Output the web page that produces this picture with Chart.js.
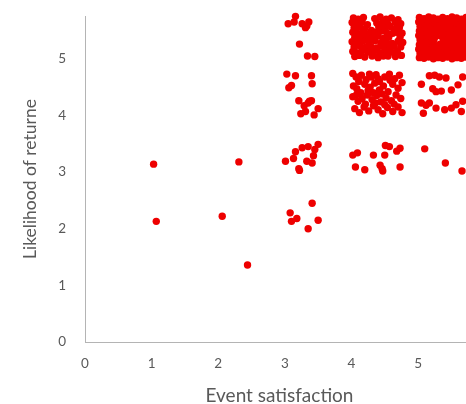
<!DOCTYPE html>
<html>
<head>
<meta charset="utf-8">
<script src="https://cdn.jsdelivr.net/npm/chart.js@4"></script>
<style>
  html, body { margin: 0; padding: 0; background: #fff; overflow: hidden; }
  #wrap { width: 478px; height: 415px; margin-top: -11px; }
</style>
</head>
<body>
<div id="wrap"><canvas id="myChart"></canvas></div>
<script>
// jittered survey answers
var xTitle = 'Event satisfaction'
var yTitle = 'Likelihood of returne'
var xTicks = [0, 1, 2, 3, 4, 5]
var yTicks = [0, 1, 2, 3, 4, 5]

var low = [[1.03, 3.14], [1.07, 2.13], [2.31, 3.18], [2.06, 2.22], [2.44, 1.36]]

var sat3ret2 = [[3.41, 2.45], [3.08, 2.28], [3.10, 2.13], [3.18, 2.18], [3.50, 2.15], [3.35, 2.00]]

var sat3ret3 = [[3.50, 3.49], [3.45, 3.40], [3.35, 3.45], [3.26, 3.43], [3.16, 3.36], [3.43, 3.29],
    [3.33, 3.19], [3.41, 3.16], [3.13, 3.24], [3.01, 3.19], [3.21, 3.06], [3.22, 3.03]]

var sat3ret4 = [[3.03, 4.73], [3.16, 4.70], [3.40, 4.70], [3.41, 4.56], [3.10, 4.53], [3.06, 4.49],
    [3.21, 4.26], [3.29, 4.17], [3.40, 4.26], [3.35, 4.22], [3.50, 4.12], [3.44, 4.01],
    [3.24, 4.03], [3.31, 4.07], [3.37, 4.25]]

var sat3ret5 = [[3.16, 5.75], [3.05, 5.62], [3.14, 5.65], [3.26, 5.62], [3.33, 5.58], [3.36, 5.65],
    [3.31, 5.55], [3.22, 5.26], [3.34, 5.05], [3.45, 5.04]]

var sat4ret3 = [[4.02, 3.30], [4.09, 3.34], [4.33, 3.30], [4.50, 3.30], [4.51, 3.47], [4.57, 3.45],
    [4.68, 3.37], [4.73, 3.42], [4.06, 3.09], [4.20, 3.04], [4.43, 3.12], [4.46, 3.06],
    [4.47, 3.02], [4.73, 3.09]]

var sat5ret3 = [[5.10, 3.41], [5.41, 3.16], [5.66, 3.02]]

var sat4ret4 = [[4.02, 4.74], [4.07, 4.68], [4.15, 4.71], [4.22, 4.63], [4.30, 4.68], [4.37, 4.72],
    [4.42, 4.60], [4.50, 4.68], [4.57, 4.73], [4.65, 4.65], [4.72, 4.71],
    [4.03, 4.52], [4.08, 4.47], [4.14, 4.40], [4.20, 4.55], [4.28, 4.50], [4.35, 4.57],
    [4.42, 4.45], [4.48, 4.52], [4.55, 4.42], [4.62, 4.55], [4.70, 4.48], [4.76, 4.58],
    [4.02, 4.33], [4.10, 4.25], [4.16, 4.30], [4.24, 4.36], [4.31, 4.28], [4.38, 4.35],
    [4.44, 4.24], [4.52, 4.31], [4.60, 4.26], [4.67, 4.36], [4.74, 4.30],
    [4.05, 4.12], [4.12, 4.05], [4.19, 4.15], [4.26, 4.08], [4.33, 4.17], [4.40, 4.10],
    [4.47, 4.03], [4.54, 4.14], [4.62, 4.07], [4.70, 4.15], [4.76, 4.05],
    [4.11, 4.60], [4.25, 4.44], [4.33, 4.40], [4.46, 4.38], [4.58, 4.62], [4.36, 4.22],
    [4.21, 4.20], [4.50, 4.19], [4.64, 4.20], [4.08, 4.37], [4.40, 4.65], [4.27, 4.73]]

var sat5ret4 = [[5.05, 4.55], [5.17, 4.70], [5.25, 4.71], [5.32, 4.68], [5.22, 4.47], [5.27, 4.42],
    [5.35, 4.43], [5.50, 4.45], [5.05, 4.22], [5.12, 4.18], [5.17, 4.22], [5.27, 4.13],
    [5.40, 4.10], [5.50, 4.13], [5.57, 4.19], [5.65, 4.07], [5.67, 4.25], [5.60, 4.54],
    [5.67, 4.68], [5.42, 4.66], [5.08, 4.04]]

var sat4ret5 = [
    [4.03, 5.72], [4.10, 5.70], [4.18, 5.73], [4.35, 5.71], [4.43, 5.74], [4.52, 5.70], [4.60, 5.72], [4.70, 5.69],
    [4.01, 5.64], [4.08, 5.62], [4.16, 5.65], [4.38, 5.63], [4.47, 5.66], [4.55, 5.61], [4.66, 5.64], [4.74, 5.62],
    [4.04, 5.55], [4.12, 5.57], [4.20, 5.53], [4.30, 5.50], [4.41, 5.56], [4.50, 5.54], [4.58, 5.57], [4.72, 5.55],
    [4.02, 5.47], [4.09, 5.45], [4.18, 5.48], [4.27, 5.44], [4.36, 5.47], [4.45, 5.49], [4.53, 5.46], [4.68, 5.47], [4.76, 5.45],
    [4.05, 5.38], [4.13, 5.36], [4.22, 5.39], [4.31, 5.37], [4.40, 5.40], [4.48, 5.36], [4.73, 5.38],
    [4.01, 5.30], [4.10, 5.28], [4.17, 5.31], [4.26, 5.29], [4.35, 5.32], [4.44, 5.28], [4.52, 5.30], [4.61, 5.27], [4.70, 5.31], [4.77, 5.29],
    [4.04, 5.21], [4.12, 5.23], [4.21, 5.20], [4.29, 5.22], [4.38, 5.19], [4.47, 5.22], [4.56, 5.20], [4.64, 5.23], [4.74, 5.21],
    [4.02, 5.13], [4.08, 5.11], [4.16, 5.14], [4.25, 5.12], [4.34, 5.15], [4.43, 5.11], [4.50, 5.13], [4.60, 5.12], [4.69, 5.14],
    [4.05, 5.04], [4.12, 5.06], [4.20, 5.03], [4.31, 5.05], [4.40, 5.02], [4.55, 5.05], [4.66, 5.04], [4.75, 5.06],
    [4.07, 5.51], [4.14, 5.42], [4.06, 5.26], [4.24, 5.60], [4.58, 5.24], [4.46, 5.58],
    [4.28, 5.35], [4.62, 5.45], [4.33, 5.08], [4.48, 5.05], [4.56, 5.38], [4.65, 5.52]]

var sat5ret5 = [
    [5.02, 5.73], [5.09, 5.71], [5.16, 5.74], [5.23, 5.72], [5.30, 5.70], [5.37, 5.73], [5.44, 5.71], [5.51, 5.74], [5.58, 5.72], [5.65, 5.70], [5.72, 5.73],
    [5.01, 5.65], [5.08, 5.66], [5.15, 5.64], [5.22, 5.67], [5.29, 5.65], [5.36, 5.63], [5.43, 5.66], [5.50, 5.64], [5.57, 5.67], [5.64, 5.65], [5.71, 5.64],
    [5.03, 5.57], [5.10, 5.58], [5.17, 5.56], [5.24, 5.59], [5.31, 5.57], [5.38, 5.55], [5.45, 5.58], [5.52, 5.56], [5.59, 5.59], [5.66, 5.57], [5.72, 5.56],
    [5.02, 5.49], [5.09, 5.50], [5.16, 5.48], [5.23, 5.51], [5.30, 5.49], [5.37, 5.47], [5.44, 5.50], [5.51, 5.48], [5.58, 5.51], [5.65, 5.49], [5.71, 5.48],
    [5.01, 5.41], [5.08, 5.42], [5.15, 5.40], [5.22, 5.43], [5.36, 5.39], [5.43, 5.42], [5.50, 5.40], [5.57, 5.43], [5.64, 5.41], [5.72, 5.40],
    [5.03, 5.33], [5.10, 5.34], [5.17, 5.32], [5.38, 5.31], [5.45, 5.34], [5.52, 5.32], [5.59, 5.35], [5.66, 5.33], [5.71, 5.32],
    [5.02, 5.25], [5.09, 5.26], [5.16, 5.24], [5.23, 5.27], [5.37, 5.23], [5.44, 5.26], [5.51, 5.24], [5.58, 5.27], [5.65, 5.25], [5.72, 5.24],
    [5.01, 5.17], [5.08, 5.18], [5.15, 5.16], [5.22, 5.19], [5.29, 5.17], [5.36, 5.15], [5.43, 5.18], [5.50, 5.16], [5.57, 5.19], [5.64, 5.17], [5.71, 5.16],
    [5.03, 5.09], [5.10, 5.10], [5.17, 5.08], [5.24, 5.11], [5.31, 5.09], [5.38, 5.07], [5.45, 5.10], [5.52, 5.08], [5.59, 5.11], [5.66, 5.09], [5.72, 5.08],
    [5.02, 5.02], [5.09, 5.01], [5.16, 5.03], [5.23, 5.00], [5.30, 5.02], [5.37, 5.01], [5.44, 5.03], [5.51, 5.00], [5.58, 5.02], [5.65, 5.01], [5.71, 5.03],
    [5.27, 5.40], [5.24, 5.34], [5.33, 5.26], [5.30, 5.20], [5.20, 5.52], [5.48, 5.62], [5.12, 5.29]]

var grupos = [low, sat3ret2, sat3ret3, sat3ret4, sat3ret5, sat4ret3, sat5ret3, sat4ret4, sat5ret4, sat4ret5, sat5ret5]
var puntos = []
for (var g of grupos) {
    for (var p of g) {
        puntos.push({ x: p[0], y: p[1] })
    }
}

const config = {
    type: 'scatter',
    data: {
        datasets: [{
            label: 'Respuestas',
            data: puntos,
            backgroundColor: '#EE0000',
            borderWidth: 0,
            pointRadius: 3.7,
            clip: false
        }]
    },
    options: {
        responsive: true,
        maintainAspectRatio: false,
        animation: false,
        layout: { padding: { top: 3, left: 0, right: 0, bottom: 0 } },
        plugins: { legend: { display: false }, tooltip: { enabled: false } },
        scales: {
            x: {
                type: 'linear',
                min: 0,
                max: 5.84,
                grid: { display: false, drawTicks: false },
                border: { display: true, color: '#B4B4B4', width: 1 },
                afterBuildTicks: function (s) {
                    s.ticks = xTicks.map(function (v) { return { value: v } })
                },
                afterFit: function (s) { s.height = 62 },
                ticks: { color: '#595959', padding: 14, font: { family: 'Lato', size: 13.5 } },
                title: {
                    display: true, text: xTitle, color: '#595959',
                    font: { family: 'Lato', size: 19 }, padding: { top: 0, bottom: -3 }
                }
            },
            y: {
                type: 'linear',
                min: 0,
                max: 5.754,
                grid: { display: false, drawTicks: false },
                border: { display: true, color: '#B4B4B4', width: 1 },
                afterBuildTicks: function (s) {
                    s.ticks = yTicks.map(function (v) { return { value: v } })
                },
                afterFit: function (s) { s.width = 85 },
                ticks: { color: '#595959', padding: 19, font: { family: 'Lato', size: 13.5 } },
                title: {
                    display: true, text: yTitle, color: '#595959',
                    font: { family: 'Lato', size: 17.5 }, padding: { top: 20, bottom: 0 }
                }
            }
        }
    }
};

const myChart = new Chart(document.getElementById('myChart'), config);
</script>
</body>
</html>
